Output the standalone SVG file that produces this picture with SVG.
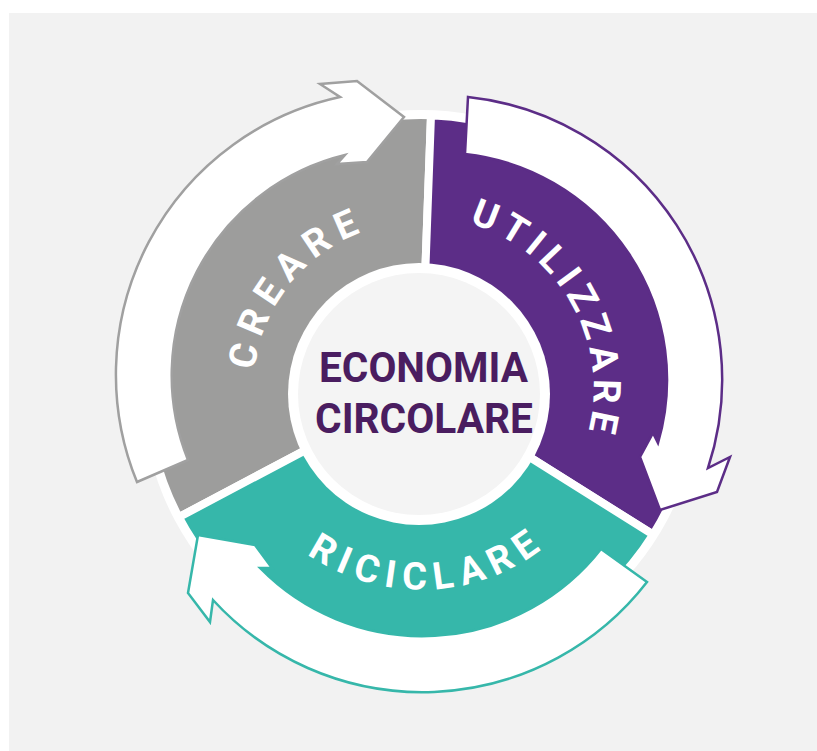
<svg xmlns="http://www.w3.org/2000/svg" width="817" height="751" viewBox="0 0 817 751">
<style>
.seg{stroke:#ffffff;stroke-width:8;stroke-linejoin:miter}
.arrow{fill:#ffffff;stroke-width:2.5;stroke-linejoin:miter}
.lbl{font-family:Roboto,"Liberation Sans",sans-serif;font-weight:700;font-size:38px;fill:#ffffff}
.ctr{font-family:Roboto,"Liberation Sans",sans-serif;font-weight:700;font-size:43px;fill:#4a1d60;text-anchor:middle}
</style>
<defs>
<path id="pCreare" d="M277.4 475.3 A167.5 167.5 0 0 1 475.5 230.6"/>
<path id="pUtil" d="M394 218.6 A172.5 172.5 0 0 1 551.2 502.2"/>
<path id="pRic" d="M235.3 464.6 A200.5 200.5 0 0 0 611.9 450.5"/>
</defs>
<rect x="0" y="0" width="817" height="751" fill="#ffffff"/>
<rect x="9" y="13" width="808" height="738" fill="#f2f2f2"/>
<circle cx="421" cy="389" r="279" fill="#ffffff"/>
<g id="node-creare">
<path class="seg" fill="#9d9d9c" d="M421 389 L178.8 517.2 A274 274 0 0 1 431 115.2 Z"/>
</g>
<g id="node-utilizzare">
<path class="seg" fill="#5c2d87" d="M421 389 L431 115.2 A274 274 0 0 1 653.1 534.6 Z"/>
</g>
<g id="node-riciclare">
<path class="seg" fill="#36b7aa" d="M421 389 L653.1 534.6 A274 274 0 0 1 178.8 517.2 Z"/>
</g>
<g id="connectors">
<path class="arrow" stroke="#a0a0a0" d="M137 482 A284 284 0 0 1 340 97 L320 84 L357 81 L404 117 L367 162 L337 164 L345 155 A227 227 0 0 0 188 460 Z"/>
<path class="arrow" stroke="#5c2d87" d="M468 97 A284 284 0 0 1 708 468 L730 457 L717 492 L660 510 L640 457 L653 433 L658 443 A227 227 0 0 0 465 154 Z"/>
<path class="arrow" stroke="#36b7aa" d="M647 582 A284 284 0 0 1 213 600 L210 622 L188 593 L198 535 L255 545 L272 568 L260 568 A227 227 0 0 0 601 549 Z"/>
</g>
<g id="labels">
<text class="lbl" letter-spacing="8.2"><textPath href="#pCreare" startOffset="50%" text-anchor="middle">CREARE</textPath></text>
<text class="lbl" letter-spacing="6.1"><textPath href="#pUtil" startOffset="50%" text-anchor="middle">UTILIZZARE</textPath></text>
<text class="lbl" letter-spacing="7.7"><textPath href="#pRic" startOffset="50%" text-anchor="middle">RICICLARE</textPath></text>
</g>
<g id="node-center">
<circle cx="419" cy="394" r="131" fill="#ffffff"/>
<circle cx="419" cy="394" r="121" fill="#f4f4f4"/>
<text class="ctr" x="423.5" y="382" textLength="209" lengthAdjust="spacingAndGlyphs">ECONOMIA</text>
<text class="ctr" x="424" y="433" textLength="218" lengthAdjust="spacingAndGlyphs">CIRCOLARE</text>
</g>
</svg>
